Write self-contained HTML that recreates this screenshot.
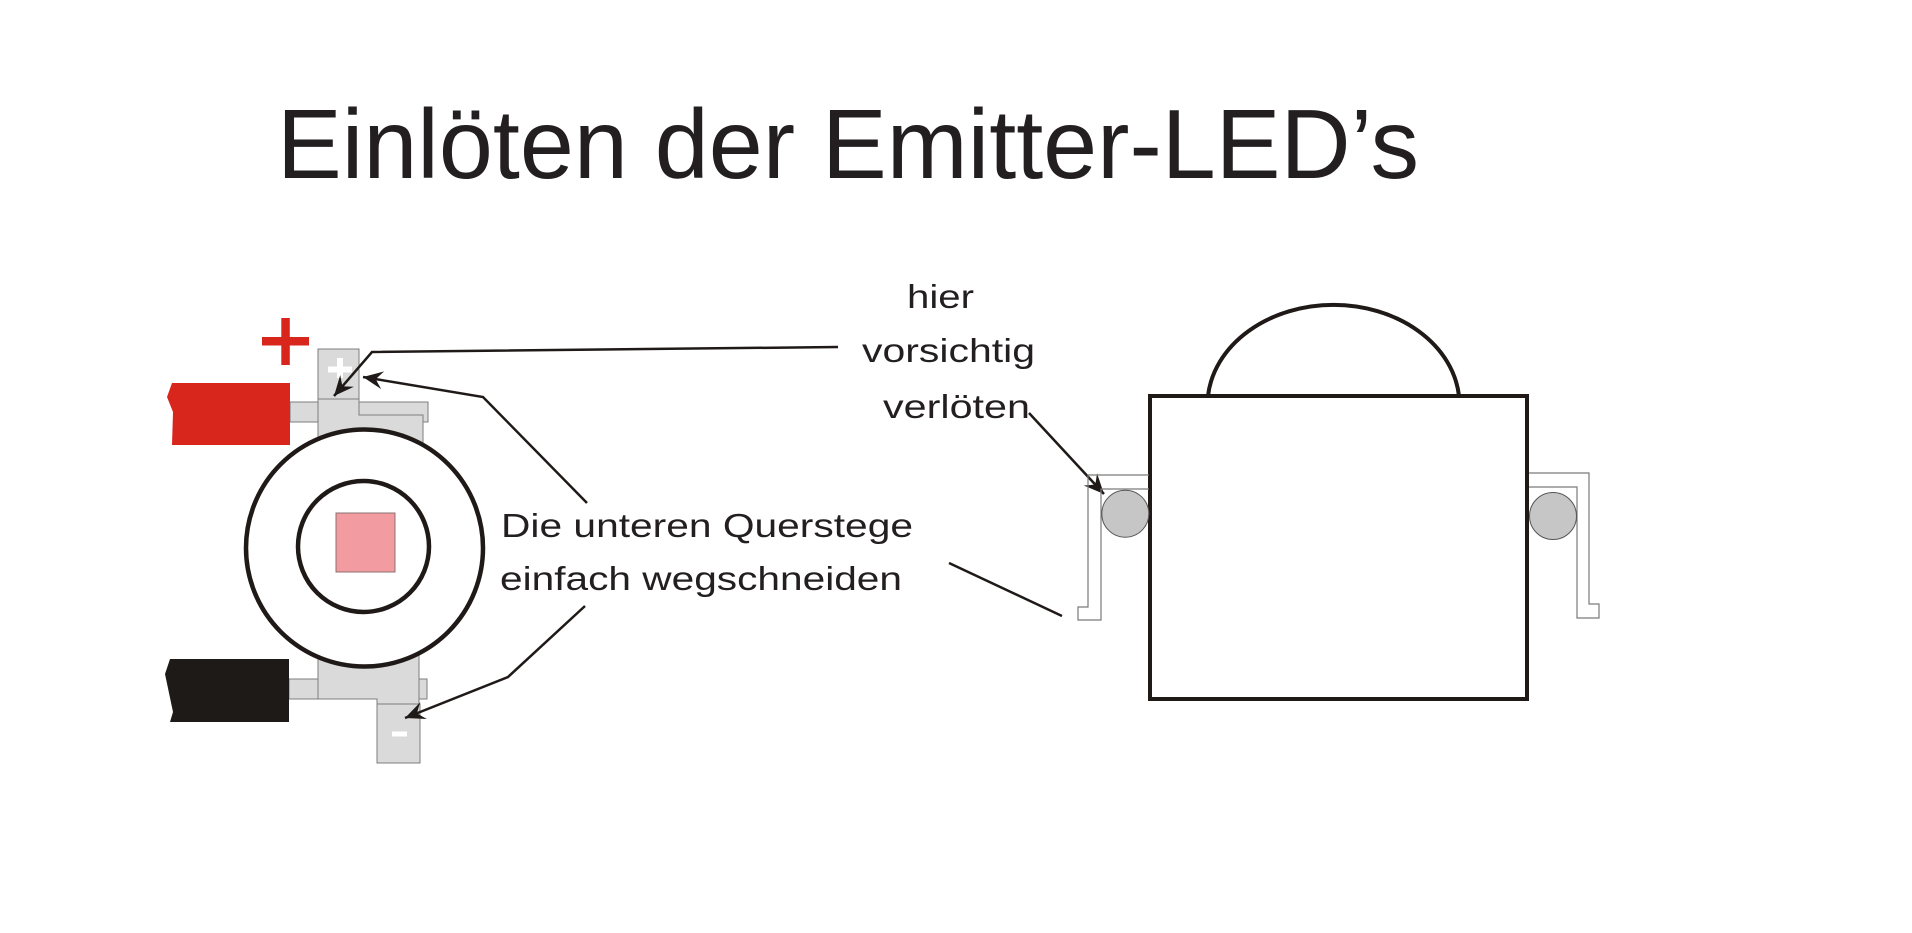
<!DOCTYPE html>
<html>
<head>
<meta charset="utf-8">
<style>
html,body{margin:0;padding:0;background:#fff;}
svg{display:block;}
text{font-family:"Liberation Sans",Arial,sans-serif;fill:#231f20;}
</style>
</head>
<body>
<svg width="1912" height="933" viewBox="0 0 1912 933" xmlns="http://www.w3.org/2000/svg">
<defs>
<marker id="ah" markerUnits="userSpaceOnUse" markerWidth="40" markerHeight="40" viewBox="-30 -20 40 40" refX="0" refY="0" orient="auto">
<path d="M0,0 L-20,-9 Q-15,-3 -13,0 Q-15,3 -20,9 Z" fill="#1f1a17"/>
</marker>
</defs>
<rect width="1912" height="933" fill="#fff"/>

<!-- Title -->
<text x="277" y="178" font-size="98" textLength="1142" lengthAdjust="spacingAndGlyphs">Einlöten der Emitter-LED’s</text>

<!-- LED top view: pads -->
<rect x="290" y="402" width="138" height="20" fill="#dadada" stroke="#7d7d7d" stroke-width="1"/>
<path d="M318,399 L359,399 L359,415 L423,415 L423,470 L318,470 Z" fill="#dadada" stroke="#7d7d7d" stroke-width="1"/>
<rect x="318" y="349" width="41" height="50" fill="#dadada" stroke="#7d7d7d" stroke-width="1"/>
<!-- white plus -->
<rect x="328" y="366.5" width="24" height="6" fill="#fff"/>
<rect x="337" y="358" width="6" height="20" fill="#fff"/>

<!-- bottom pads -->
<rect x="289" y="679" width="138" height="20" fill="#dadada" stroke="#7d7d7d" stroke-width="1"/>
<path d="M318,630 L419,630 L419,704 L377,704 L377,699 L318,699 Z" fill="#dadada" stroke="#7d7d7d" stroke-width="1"/>
<rect x="377" y="704" width="43" height="59" fill="#dadada" stroke="#7d7d7d" stroke-width="1"/>
<rect x="392" y="731.5" width="15" height="5" fill="#fff"/>

<!-- circles -->
<circle cx="364.5" cy="548" r="118.5" fill="#fff" stroke="#1f1a17" stroke-width="4.5"/>
<circle cx="363.5" cy="546.5" r="65.5" fill="#fff" stroke="#1f1a17" stroke-width="4.5"/>
<rect x="336" y="513" width="59" height="59" fill="#f29ca1" stroke="#8c6f70" stroke-width="1"/>

<!-- wires -->
<path d="M172,383 L290,383 L290,445 L172,445 L173,412 L167,397 Z" fill="#d9261c"/>
<path d="M170,659 L289,659 L289,722 L170,722 L173,712 L165,674 Z" fill="#1e1a18"/>

<!-- red plus -->
<rect x="262" y="337" width="47" height="8.5" fill="#d9261c"/>
<rect x="281.3" y="318" width="8.5" height="47" fill="#d9261c"/>

<!-- labels -->
<text x="907" y="308" font-size="33" textLength="67" lengthAdjust="spacingAndGlyphs">hier</text>
<text x="862" y="362" font-size="33" textLength="173" lengthAdjust="spacingAndGlyphs">vorsichtig</text>
<text x="883" y="418" font-size="33" textLength="147" lengthAdjust="spacingAndGlyphs">verlöten</text>
<text x="501" y="537" font-size="33" textLength="412" lengthAdjust="spacingAndGlyphs">Die unteren Querstege</text>
<text x="500" y="590" font-size="33" textLength="402" lengthAdjust="spacingAndGlyphs">einfach wegschneiden</text>

<!-- leader lines / arrows -->
<g fill="none" stroke="#1f1a17" stroke-width="2.5" stroke-linejoin="miter">
<path d="M838,347 L372,352 L334,396" marker-end="url(#ah)"/>
<path d="M587,503 L483,397 L363,377" marker-end="url(#ah)"/>
<path d="M585,606 L508,677 L405,718" marker-end="url(#ah)"/>
<path d="M1029,413 L1104,494" marker-end="url(#ah)"/>
<path d="M949,563 L1062,616"/>
</g>

<!-- side view -->
<path d="M1208,396 A126,100 0 0 1 1459,396" fill="none" stroke="#1f1a17" stroke-width="4"/>
<rect x="1150" y="396" width="377" height="303" fill="none" stroke="#1f1a17" stroke-width="4"/>

<!-- left bracket -->
<path d="M1149,475 L1088,475 L1088,607 L1078,607 L1078,620 L1101,620 L1101,489 L1149,489" fill="none" stroke="#7a7a7a" stroke-width="1.2"/>
<circle cx="1125.3" cy="513.7" r="23.5" fill="#c6c6c6" stroke="#555" stroke-width="1"/>

<!-- right bracket -->
<path d="M1529,473 L1589,473 L1589,604 L1599,604 L1599,618 L1577,618 L1577,487 L1529,487" fill="none" stroke="#7a7a7a" stroke-width="1.2"/>
<circle cx="1553" cy="516" r="23.5" fill="#c6c6c6" stroke="#555" stroke-width="1"/>
</svg>
</body>
</html>
